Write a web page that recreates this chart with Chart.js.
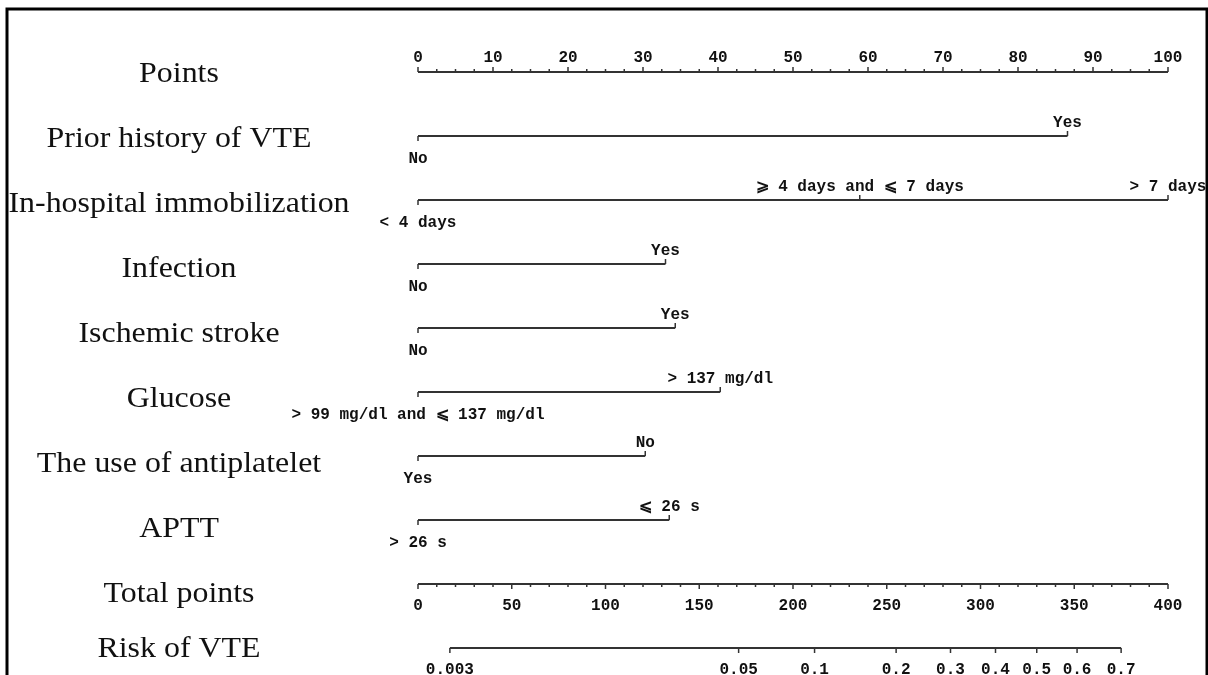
<!DOCTYPE html>
<html>
<head>
<meta charset="utf-8">
<script src="https://cdn.jsdelivr.net/npm/chart.js@4"></script>
<style>
  html, body { margin: 0; padding: 0; background: #fff; }
  #wrap { width: 1208px; height: 675px; position: relative; }
</style>
</head>
<body>
<div id="wrap"><canvas id="nomo"></canvas></div>
<script>
// ===============================
// DATA
// ===============================
const rowTitles = ["Points", "Prior history of VTE", "In-hospital immobilization", "Infection",
  "Ischemic stroke", "Glucose", "The use of antiplatelet", "APTT", "Total points", "Risk of VTE"];

const pointsTickLabels = [0, 10, 20, 30, 40, 50, 60, 70, 80, 90, 100];
const totalTickLabels  = [0, 50, 100, 150, 200, 250, 300, 350, 400];

const vteLevels   = ["No", "Yes"];
const vtePoints   = [0, 86.6];
const immobLevels = ["< 4 days", "⩾ 4 days and ⩽ 7 days", "> 7 days"];
const immobPoints = [0, 58.9, 100];
const infectionLevels = ["No", "Yes"];
const infectionPoints = [0, 33.0];
const strokeLevels = ["No", "Yes"];
const strokePoints = [0, 34.3];
const glucoseLevels = ["> 99 mg/dl and ⩽ 137 mg/dl", "> 137 mg/dl"];
const glucosePoints = [0, 40.3];
const antiplateletLevels = ["Yes", "No"];
const antiplateletPoints = [0, 30.3];
const apttLevels = ["> 26 s", "⩽ 26 s"];
const apttPoints = [0, 33.5];

// risk labels and their position on the total points scale
const riskLabels = ["0.003", "0.05", "0.1", "0.2", "0.3", "0.4", "0.5", "0.6", "0.7"];
const riskTotals = [17, 171, 211.5, 255, 284, 308, 330, 351.5, 375];

const factors = [
  { row: 1, levels: vteLevels, pts: vtePoints },
  { row: 2, levels: immobLevels, pts: immobPoints },
  { row: 3, levels: infectionLevels, pts: infectionPoints },
  { row: 4, levels: strokeLevels, pts: strokePoints },
  { row: 5, levels: glucoseLevels, pts: glucosePoints },
  { row: 6, levels: antiplateletLevels, pts: antiplateletPoints },
  { row: 7, levels: apttLevels, pts: apttPoints }
];

const LINE = "#333";
const TXT = "#111";
const TICK_FONT = "bold 16px 'Liberation Mono', 'DejaVu Sans Mono', monospace";

function lineSet(pts, row, axis) {
  return {
    data: [{ x: Math.min(...pts), y: row }, { x: Math.max(...pts), y: row }],
    xAxisID: axis || "x",
    showLine: true, borderColor: LINE, borderWidth: 2,
    pointRadius: 0, clip: false
  };
}

const datasets = [
  lineSet([0, 100], 0),
  ...factors.map(f => lineSet(f.pts, f.row)),
  lineSet([0, 400], 8, "x2"),
  lineSet([riskTotals[0], riskTotals[riskTotals.length - 1]], 9, "x2")
];

// ===============================
// DRAWING: titles, ticks, labels
// ===============================
function tick(ctx, px, py, len) {
  ctx.beginPath();
  ctx.moveTo(px, py);
  ctx.lineTo(px, py + len);
  ctx.stroke();
}

const nomogramPlugin = {
  id: "nomogram",
  beforeDraw(chart) {
    const ctx = chart.ctx;
    ctx.save();
    ctx.fillStyle = "#fff";
    ctx.fillRect(0, 0, chart.width, chart.height);
    ctx.strokeStyle = "#000";
    ctx.lineWidth = 3;
    ctx.beginPath();
    ctx.moveTo(7, 675); ctx.lineTo(7, 9); ctx.lineTo(1207, 9); ctx.lineTo(1207, 675);
    ctx.stroke();
    ctx.restore();
  },
  afterDatasetsDraw(chart) {
    const { ctx, scales: { x, x2, y } } = chart;
    ctx.save();
    ctx.strokeStyle = LINE;
    ctx.lineWidth = 1.5;
    ctx.fillStyle = TXT;

    // row titles (serif, slightly stretched like the original)
    ctx.font = "29px 'Liberation Serif', 'Times New Roman', serif";
    ctx.textAlign = "center";
    ctx.textBaseline = "alphabetic";
    rowTitles.forEach((t, i) => {
      const by = i < 9 ? y.getPixelForValue(i) + 10 + i : y.getPixelForValue(i) + 9;
      ctx.save();
      ctx.translate(179, by);
      ctx.scale(1.1, 1);
      ctx.fillText(t, 0, 0);
      ctx.restore();
    });

    ctx.font = TICK_FONT;

    // Points axis
    const py = y.getPixelForValue(0);
    for (let v = 0; v <= 100; v += 2.5) {
      const major = v % 10 === 0;
      tick(ctx, x.getPixelForValue(v), py, major ? -5 : -3);
    }
    ctx.textBaseline = "alphabetic";
    pointsTickLabels.forEach(v => ctx.fillText(String(v), x.getPixelForValue(v), py - 10));

    // factor rows
    factors.forEach(f => {
      const ry = y.getPixelForValue(f.row);
      f.pts.forEach((p, k) => {
        const px = x.getPixelForValue(p);
        if (k === 0) {
          tick(ctx, px, ry, 5);
          ctx.textBaseline = "top";
          ctx.fillText(f.levels[k], px, ry + 15);
        } else {
          tick(ctx, px, ry, -5);
          ctx.textBaseline = "alphabetic";
          ctx.fillText(f.levels[k], px, ry - 9);
        }
      });
    });

    // Total points axis
    const ty = y.getPixelForValue(8);
    for (let v = 0; v <= 400; v += 10) {
      tick(ctx, x2.getPixelForValue(v), ty, v % 50 === 0 ? 5 : 3);
    }
    ctx.textBaseline = "top";
    totalTickLabels.forEach(v => ctx.fillText(String(v), x2.getPixelForValue(v), ty + 14));

    // Risk axis
    const ky = y.getPixelForValue(9);
    riskTotals.forEach((t, k) => {
      const px = x2.getPixelForValue(t);
      tick(ctx, px, ky, 5);
      ctx.fillText(riskLabels[k], px, ky + 14);
    });

    ctx.restore();
  }
};

new Chart(document.getElementById("nomo"), {
  type: "scatter",
  data: { datasets },
  options: {
    responsive: true,
    maintainAspectRatio: false,
    animation: false,
    layout: { padding: { left: 418, right: 40, top: 72, bottom: 27 } },
    plugins: { legend: { display: false }, tooltip: { enabled: false } },
    scales: {
      x:  { type: "linear", min: 0, max: 100, display: false },
      x2: { type: "linear", min: 0, max: 400, display: false },
      y:  { type: "linear", min: 0, max: 9, reverse: true, display: false }
    }
  },
  plugins: [nomogramPlugin]
});
</script>
</body>
</html>
